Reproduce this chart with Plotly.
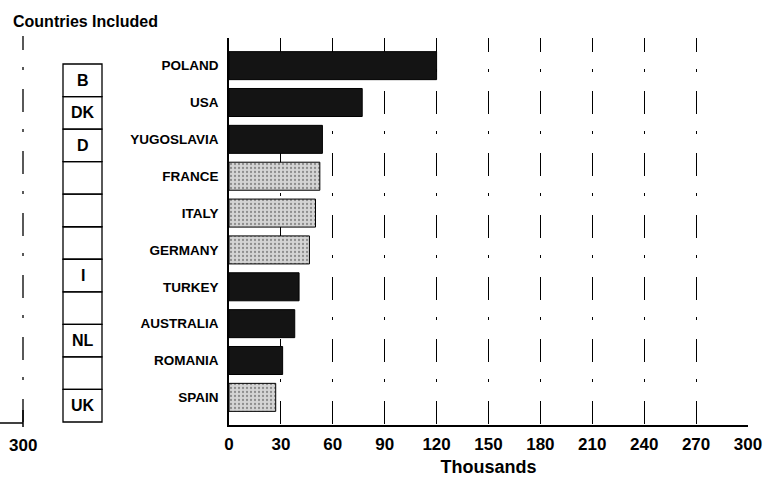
import plotly.graph_objects as go

# ---- data ----
countries = ["POLAND", "USA", "YUGOSLAVIA", "FRANCE", "ITALY", "GERMANY",
             "TURKEY", "AUSTRALIA", "ROMANIA", "SPAIN"]
values = [120, 77, 54, 52.5, 50, 46.5, 40.5, 38, 31, 27]
in_ec = [False, False, False, True, True, True, False, False, False, True]
x_ticks = [0, 30, 60, 90, 120, 150, 180, 210, 240, 270, 300]
included_labels = ["B", "DK", "D", "", "", "", "I", "", "NL", "", "UK"]
left_panel_tick = "300"

FONT = "Liberation Sans, Arial, Helvetica, sans-serif"
W, H = 775, 477
ML, MR, MT, MB = 229, 27, 38, 52
PW, PH = W - ML - MR, H - MT - MB


def px(x):
    return (x - ML) / PW


def py(y):
    return (H - MB - y) / PH


colors = ["#d4d4d4" if e else "#141414" for e in in_ec]
shapes_pat = ["." if e else "" for e in in_ec]

fig = go.Figure(go.Bar(
    y=countries, x=values, orientation="h", width=0.76,
    marker=dict(color=colors,
                line=dict(color="#000", width=1),
                pattern=dict(shape=shapes_pat, fgcolor="#8a8a8a",
                             size=4, solidity=0.25)),
    hoverinfo="skip",
))

# dash-dot pattern: short first dash, then (dash, gap, dot, gap) repeated
DASH = ",".join(["14px", "17px", "3px", "19px"] +
                ["23px", "17px", "3px", "19px"] * 7)

fig.update_xaxes(
    range=[0, 300], tickvals=x_ticks, ticktext=[str(v) for v in x_ticks],
    showgrid=True, gridcolor="#000", gridwidth=1.3, griddash=DASH,
    zeroline=False, showline=True, linecolor="#000", linewidth=1.5,
    ticks="", ticklabelstandoff=3, automargin=False,
    tickfont=dict(family=FONT, size=17, color="#000", weight="bold"),
    title=dict(text="Thousands", standoff=8,
               font=dict(family=FONT, size=18, color="#000", weight="bold")),
)
fig.update_yaxes(
    categoryorder="array", categoryarray=countries,
    range=[9.75, -0.75], showgrid=False, zeroline=False,
    showline=True, linecolor="#000", linewidth=1.5, ticks="",
    ticklabelstandoff=6, automargin=False,
    tickfont=dict(family=FONT, size=13.5, color="#000", weight="bold"),
)

shapes = []
annotations = []

# "Countries Included" column of boxes
bx0, bx1, btop, bbot = 63, 102, 64, 422
n = len(included_labels)
bh = (bbot - btop) / n
for i, lab in enumerate(included_labels):
    y0 = btop + i * bh
    y1 = y0 + bh
    shapes.append(dict(type="rect", xref="paper", yref="paper",
                       x0=px(bx0), x1=px(bx1), y0=py(y1), y1=py(y0),
                       line=dict(color="#000", width=1.3)))
    if lab:
        annotations.append(dict(xref="paper", yref="paper",
                                x=px((bx0 + bx1) / 2), y=py((y0 + y1) / 2),
                                text=lab, showarrow=False,
                                xanchor="center", yanchor="middle",
                                font=dict(family=FONT, size=16, color="#000",
                                          weight="bold")))

# partial panel at far left
shapes.append(dict(type="line", xref="paper", yref="paper",
                   x0=px(23), x1=px(23), y0=py(36), y1=py(423),
                   line=dict(color="#000", width=1.3, dash=DASH)))
shapes.append(dict(type="line", xref="paper", yref="paper",
                   x0=px(0), x1=px(23), y0=py(423), y1=py(423),
                   line=dict(color="#000", width=1.5)))
shapes.append(dict(type="line", xref="paper", yref="paper",
                   x0=px(23), x1=px(23), y0=py(427), y1=py(410),
                   line=dict(color="#000", width=1.5)))
annotations.append(dict(xref="paper", yref="paper", x=px(22.5), y=py(445),
                        text=left_panel_tick, showarrow=False,
                        xanchor="center", yanchor="middle",
                        font=dict(family=FONT, size=17, color="#000",
                                  weight="bold")))
annotations.append(dict(xref="paper", yref="paper", x=px(11), y=py(21),
                        text="Countries Included", showarrow=False,
                        xanchor="left", yanchor="middle",
                        font=dict(family=FONT, size=16, color="#000",
                                  weight="bold")))

fig.update_layout(
    width=W, height=H,
    margin=dict(l=ML, r=MR, t=MT, b=MB, pad=0, autoexpand=False),
    paper_bgcolor="#fff", plot_bgcolor="#fff",
    showlegend=False, bargap=0.24,
    shapes=shapes, annotations=annotations,
    font=dict(family=FONT, color="#000"),
)

fig.write_html("out.html",
               config={"displayModeBar": False},
               post_script="document.body.style.margin='0';"
                           "document.body.style.overflow='hidden';")
